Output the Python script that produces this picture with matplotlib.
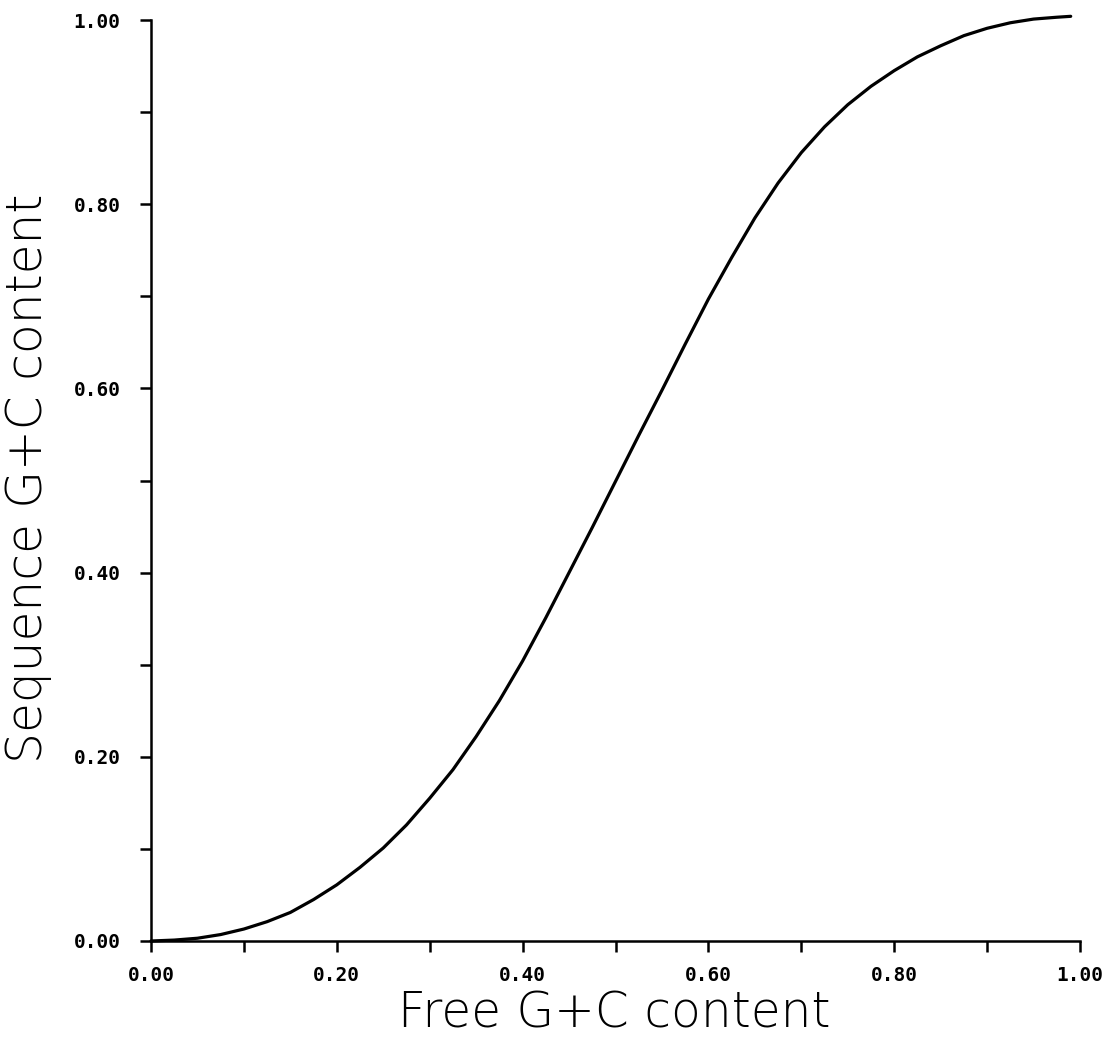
import matplotlib
matplotlib.use("Agg")
import matplotlib.pyplot as plt

# values
free_gc = [0.0, 0.025, 0.05, 0.075, 0.10, 0.125, 0.15, 0.175, 0.20, 0.225,
           0.25, 0.275, 0.30, 0.325, 0.35, 0.375, 0.40, 0.425, 0.45, 0.475,
           0.50, 0.525, 0.55, 0.575, 0.60, 0.625, 0.65, 0.675, 0.70, 0.725,
           0.75, 0.775, 0.80, 0.825, 0.85, 0.875, 0.90, 0.925, 0.95, 0.975,
           0.99]
seq_gc = [0.0, 0.001, 0.003, 0.007, 0.013, 0.021, 0.031, 0.045, 0.061, 0.080,
          0.101, 0.126, 0.155, 0.186, 0.222, 0.261, 0.304, 0.351, 0.400, 0.449,
          0.499, 0.549, 0.598, 0.648, 0.697, 0.742, 0.785, 0.823, 0.856, 0.884,
          0.908, 0.928, 0.945, 0.960, 0.972, 0.983, 0.991, 0.997, 1.001, 1.003,
          1.004]

major_ticks = [0.0, 0.2, 0.4, 0.6, 0.8, 1.0]
tick_labels = ["0.00", "0.20", "0.40", "0.60", "0.80", "1.00"]
minor_ticks = [0.1, 0.3, 0.5, 0.7, 0.9]

W, H = 1109, 1037
fig = plt.figure(figsize=(W / 100, H / 100), dpi=100)
ax = fig.add_axes([151 / W, 1 - 941 / H, (1080 - 151) / W, (941 - 20) / H])

ax.plot(free_gc, seq_gc, color="black", lw=2.3, solid_capstyle="round",
        solid_joinstyle="round", clip_on=False)

ax.set_xlim(0, 1)
ax.set_ylim(0, 1)
for side in ("top", "right"):
    ax.spines[side].set_visible(False)
for side in ("left", "bottom"):
    ax.spines[side].set_linewidth(1.8)

ax.set_xticks(major_ticks)
ax.set_xticks(minor_ticks, minor=True)
ax.set_yticks(major_ticks)
ax.set_yticks(minor_ticks, minor=True)
ax.set_xticklabels(tick_labels)
ax.set_yticklabels(tick_labels)
ax.tick_params(which="both", direction="out", length=8, width=1.8)
ax.tick_params(axis="x", pad=10)
ax.tick_params(axis="y", pad=14)
for lbl in ax.get_xticklabels() + ax.get_yticklabels():
    lbl.set_fontfamily("DejaVu Sans Mono")
    lbl.set_fontweight("bold")
    lbl.set_fontsize(14)

fig.text(614 / W, 1 - 1028 / H, "Free G+C content", ha="center",
         va="baseline", fontsize=35, fontweight="light", color="black")
fig.text(28 / W, 1 - 478 / H, "Sequence G+C content", ha="center",
         va="center", rotation=90, fontsize=35, fontweight="light",
         color="black")

fig.savefig("out.png", dpi=100)
